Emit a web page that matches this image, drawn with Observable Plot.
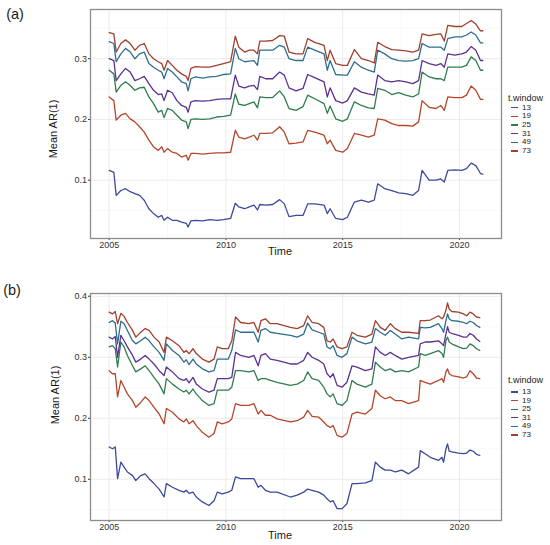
<!DOCTYPE html>
<html>
<head>
<meta charset="utf-8">
<script src="https://cdn.jsdelivr.net/npm/d3@7"></script>
<script src="https://cdn.jsdelivr.net/npm/@observablehq/plot@0.6"></script>
<style>
  html, body { margin: 0; padding: 0; background: #fff; }
  #wrap { position: relative; width: 550px; height: 545px; overflow: hidden; font-family: "Liberation Sans", Arial, sans-serif; color: #1a1a1a; }
  .abs { position: absolute; white-space: nowrap; line-height: 1; }
  svg { position: absolute; left: 0; }
</style>
</head>
<body>
<div id="wrap"></div>
<script>
// ---------- data ----------
const windows = ["13", "19", "25", "31", "49", "73"];
const colors  = ["#3b4a9a", "#b4472b", "#2f7d4f", "#5c3290", "#2e6f8c", "#a0402f"];
const xTicks = [2005, 2010, 2015, 2020];

// Panel (a)
const timeA = [2005.0,2005.2,2005.3,2005.5,2005.7,2005.9,2006.1,2006.3,2006.5,2006.7,2006.9,2007.1,2007.25,2007.35,2007.5,2007.7,2007.9,2008.1,2008.3,2008.38,2008.5,2008.7,2009.0,2009.3,2009.6,2009.9,2010.2,2010.4,2010.55,2010.8,2011.0,2011.2,2011.35,2011.45,2011.7,2012.0,2012.3,2012.5,2012.7,2013.0,2013.3,2013.5,2013.8,2014.2,2014.34,2014.46,2014.7,2015.0,2015.2,2015.5,2015.8,2016.1,2016.35,2016.5,2016.8,2017.1,2017.4,2017.7,2018.0,2018.25,2018.4,2018.7,2019.0,2019.2,2019.35,2019.5,2019.8,2020.1,2020.3,2020.5,2020.7,2020.9,2021.0];
const a13 = [0.116,0.113,0.075,0.083,0.086,0.081,0.078,0.075,0.067,0.053,0.045,0.039,0.042,0.034,0.039,0.034,0.034,0.031,0.029,0.023,0.033,0.034,0.033,0.035,0.034,0.035,0.037,0.062,0.056,0.053,0.056,0.059,0.051,0.060,0.059,0.060,0.068,0.061,0.040,0.042,0.042,0.061,0.061,0.059,0.045,0.053,0.037,0.035,0.039,0.064,0.067,0.064,0.067,0.094,0.086,0.083,0.079,0.078,0.075,0.083,0.116,0.100,0.100,0.102,0.097,0.116,0.117,0.116,0.119,0.128,0.124,0.111,0.110];
const a19 = [0.237,0.231,0.199,0.207,0.210,0.201,0.196,0.188,0.179,0.166,0.155,0.149,0.155,0.146,0.152,0.146,0.144,0.138,0.141,0.133,0.144,0.144,0.143,0.144,0.145,0.145,0.146,0.182,0.171,0.168,0.171,0.174,0.166,0.177,0.177,0.178,0.188,0.179,0.160,0.161,0.163,0.182,0.179,0.174,0.160,0.166,0.149,0.146,0.152,0.177,0.174,0.171,0.174,0.201,0.199,0.193,0.190,0.190,0.189,0.196,0.231,0.220,0.218,0.223,0.215,0.237,0.236,0.236,0.240,0.255,0.248,0.233,0.233];
const a25 = [0.281,0.275,0.245,0.256,0.262,0.256,0.248,0.252,0.253,0.237,0.226,0.212,0.215,0.203,0.218,0.215,0.207,0.199,0.196,0.185,0.200,0.201,0.200,0.201,0.204,0.205,0.207,0.242,0.225,0.223,0.226,0.229,0.219,0.237,0.236,0.236,0.247,0.237,0.218,0.215,0.221,0.240,0.234,0.226,0.210,0.222,0.201,0.197,0.201,0.229,0.223,0.219,0.218,0.251,0.248,0.241,0.244,0.240,0.237,0.242,0.278,0.270,0.267,0.267,0.264,0.286,0.286,0.286,0.289,0.303,0.297,0.281,0.281];
const a31 = [0.300,0.297,0.264,0.275,0.284,0.278,0.264,0.267,0.271,0.259,0.248,0.241,0.242,0.231,0.248,0.244,0.231,0.223,0.220,0.212,0.229,0.231,0.230,0.231,0.233,0.234,0.234,0.273,0.255,0.252,0.255,0.256,0.249,0.271,0.267,0.267,0.278,0.273,0.252,0.247,0.251,0.274,0.269,0.262,0.237,0.252,0.231,0.227,0.231,0.252,0.245,0.242,0.240,0.273,0.264,0.262,0.264,0.262,0.259,0.264,0.297,0.292,0.289,0.292,0.286,0.308,0.306,0.308,0.311,0.320,0.314,0.297,0.297];
const a49 = [0.328,0.325,0.295,0.308,0.317,0.311,0.300,0.308,0.311,0.292,0.286,0.281,0.278,0.267,0.284,0.278,0.270,0.262,0.259,0.247,0.267,0.270,0.268,0.270,0.271,0.274,0.275,0.317,0.300,0.295,0.296,0.297,0.289,0.314,0.314,0.314,0.322,0.319,0.300,0.297,0.297,0.319,0.314,0.308,0.281,0.297,0.274,0.273,0.273,0.295,0.286,0.281,0.278,0.314,0.308,0.300,0.297,0.296,0.297,0.300,0.325,0.319,0.319,0.319,0.314,0.333,0.336,0.336,0.339,0.344,0.339,0.326,0.326];
const a73 = [0.343,0.341,0.311,0.325,0.331,0.325,0.314,0.322,0.325,0.308,0.300,0.295,0.292,0.281,0.297,0.289,0.281,0.275,0.271,0.264,0.284,0.287,0.286,0.286,0.289,0.292,0.295,0.337,0.319,0.311,0.314,0.314,0.308,0.329,0.329,0.330,0.338,0.337,0.311,0.308,0.308,0.333,0.327,0.322,0.297,0.314,0.292,0.289,0.289,0.315,0.300,0.297,0.293,0.327,0.320,0.315,0.314,0.313,0.311,0.314,0.341,0.338,0.340,0.341,0.329,0.355,0.353,0.353,0.358,0.363,0.357,0.346,0.346];

// Panel (b)
const timeB = [2005.0,2005.14,2005.26,2005.36,2005.5,2005.64,2005.78,2006.0,2006.14,2006.35,2006.54,2006.71,2006.92,2007.14,2007.35,2007.45,2007.71,2007.99,2008.2,2008.3,2008.42,2008.59,2008.73,2008.99,2009.27,2009.49,2009.63,2009.84,2010.1,2010.25,2010.41,2010.63,2010.98,2011.2,2011.38,2011.5,2011.69,2011.9,2012.19,2012.76,2013.05,2013.33,2013.5,2013.69,2013.97,2014.19,2014.33,2014.47,2014.59,2014.76,2014.97,2015.18,2015.4,2015.61,2015.97,2016.25,2016.4,2016.61,2016.82,2017.04,2017.25,2017.53,2017.82,2018.25,2018.32,2018.53,2018.75,2019.1,2019.25,2019.32,2019.42,2019.49,2019.56,2019.67,2019.96,2020.17,2020.31,2020.45,2020.59,2020.73,2020.87];
const b13 = [0.153,0.150,0.153,0.101,0.128,0.120,0.112,0.106,0.098,0.106,0.109,0.101,0.093,0.084,0.071,0.093,0.087,0.082,0.079,0.082,0.077,0.079,0.071,0.063,0.057,0.065,0.079,0.076,0.079,0.082,0.104,0.101,0.101,0.101,0.087,0.090,0.082,0.079,0.079,0.071,0.074,0.079,0.084,0.082,0.079,0.074,0.068,0.063,0.065,0.052,0.052,0.060,0.093,0.093,0.094,0.098,0.128,0.120,0.115,0.115,0.112,0.115,0.109,0.120,0.147,0.142,0.136,0.131,0.136,0.128,0.150,0.158,0.146,0.145,0.143,0.142,0.143,0.148,0.146,0.141,0.139];
const b19 = [0.278,0.273,0.273,0.235,0.262,0.251,0.240,0.229,0.218,0.226,0.235,0.229,0.218,0.207,0.191,0.216,0.210,0.199,0.194,0.199,0.191,0.196,0.188,0.177,0.169,0.175,0.194,0.191,0.194,0.199,0.224,0.221,0.221,0.224,0.207,0.213,0.205,0.205,0.199,0.194,0.196,0.202,0.213,0.203,0.202,0.194,0.188,0.185,0.188,0.172,0.169,0.175,0.207,0.210,0.207,0.216,0.246,0.237,0.232,0.235,0.229,0.229,0.224,0.229,0.262,0.259,0.256,0.262,0.265,0.259,0.276,0.281,0.273,0.270,0.268,0.266,0.268,0.278,0.273,0.266,0.265];
const b25 = [0.317,0.319,0.314,0.284,0.325,0.317,0.303,0.286,0.276,0.281,0.286,0.278,0.267,0.256,0.240,0.265,0.256,0.248,0.243,0.246,0.240,0.248,0.240,0.229,0.221,0.224,0.246,0.246,0.246,0.251,0.278,0.278,0.276,0.278,0.262,0.265,0.265,0.262,0.259,0.254,0.256,0.262,0.276,0.265,0.262,0.251,0.240,0.235,0.240,0.224,0.221,0.229,0.262,0.256,0.251,0.256,0.292,0.284,0.278,0.281,0.276,0.278,0.276,0.284,0.306,0.303,0.306,0.311,0.306,0.300,0.327,0.333,0.325,0.322,0.317,0.314,0.315,0.322,0.319,0.314,0.311];
const b31 = [0.333,0.330,0.334,0.300,0.336,0.327,0.317,0.303,0.292,0.297,0.303,0.297,0.289,0.278,0.270,0.284,0.276,0.265,0.262,0.265,0.258,0.267,0.256,0.248,0.243,0.246,0.265,0.265,0.265,0.267,0.308,0.303,0.300,0.303,0.286,0.303,0.306,0.297,0.295,0.289,0.289,0.295,0.308,0.300,0.295,0.289,0.273,0.267,0.273,0.254,0.251,0.259,0.286,0.284,0.278,0.281,0.317,0.308,0.303,0.308,0.303,0.297,0.300,0.303,0.322,0.325,0.325,0.327,0.322,0.319,0.338,0.350,0.341,0.339,0.336,0.333,0.333,0.339,0.336,0.330,0.326];
const b49 = [0.357,0.360,0.356,0.322,0.359,0.355,0.344,0.327,0.322,0.327,0.333,0.327,0.317,0.308,0.295,0.322,0.311,0.303,0.292,0.296,0.288,0.297,0.289,0.281,0.276,0.278,0.297,0.297,0.297,0.311,0.345,0.341,0.341,0.341,0.325,0.344,0.347,0.341,0.339,0.336,0.333,0.338,0.356,0.345,0.341,0.338,0.317,0.314,0.319,0.303,0.300,0.306,0.333,0.327,0.322,0.325,0.347,0.341,0.336,0.344,0.338,0.330,0.333,0.330,0.349,0.348,0.349,0.355,0.347,0.341,0.360,0.371,0.363,0.360,0.359,0.357,0.355,0.359,0.357,0.352,0.349];
const b73 = [0.374,0.371,0.375,0.355,0.372,0.367,0.357,0.344,0.333,0.341,0.347,0.344,0.333,0.325,0.308,0.333,0.327,0.319,0.308,0.311,0.306,0.314,0.306,0.297,0.292,0.297,0.317,0.314,0.314,0.327,0.366,0.357,0.355,0.357,0.341,0.360,0.363,0.355,0.355,0.349,0.347,0.352,0.368,0.357,0.355,0.349,0.327,0.325,0.330,0.317,0.314,0.317,0.341,0.336,0.333,0.338,0.360,0.349,0.344,0.355,0.347,0.341,0.341,0.339,0.360,0.360,0.361,0.368,0.363,0.366,0.377,0.389,0.379,0.375,0.374,0.371,0.368,0.374,0.371,0.366,0.365];

// ---------- build ----------
function toLong(times, seriesList) {
  const rows = [];
  seriesList.forEach((vals, i) => {
    vals.forEach((v, j) => rows.push({ t: times[j], v, w: windows[i] }));
  });
  return rows;
}
const dataA = toLong(timeA, [a13, a19, a25, a31, a49, a73]);
const dataB = toLong(timeB, [b13, b19, b25, b31, b49, b73]);

const wrap = document.getElementById("wrap");
const FONT = "Liberation Sans, Arial, sans-serif";

function makePanel(data, opts) {
  const chart = Plot.plot({
    width: 550,
    height: opts.height,
    marginLeft: 90,
    marginRight: 49,
    marginTop: opts.marginTop,
    marginBottom: opts.marginBottom,
    style: { fontFamily: FONT, fontSize: "9px", color: "#333", background: "transparent", overflow: "visible" },
    x: { domain: [2004.2, 2021.8], ticks: xTicks, tickFormat: d => String(d), label: null, tickSize: 2, tickPadding: 1.5 },
    y: { domain: opts.yDomain, ticks: opts.yTicks, tickFormat: d => d.toFixed(1), label: null, tickSize: 2, tickPadding: 1.5 },
    color: { domain: windows, range: colors },
    marks: [
      Plot.gridX([2007.5, 2012.5, 2017.5], { stroke: "#f3f3f3", strokeOpacity: 1, strokeWidth: 0.6 }),
      Plot.gridY(opts.yMinor, { stroke: "#f3f3f3", strokeOpacity: 1, strokeWidth: 0.6 }),
      Plot.gridX(xTicks, { stroke: "#e9e9e9", strokeOpacity: 1, strokeWidth: 0.9 }),
      Plot.gridY(opts.yTicks, { stroke: "#e9e9e9", strokeOpacity: 1, strokeWidth: 0.9 }),
      Plot.line(data, { x: "t", y: "v", z: "w", stroke: "w", strokeWidth: 1.3, curve: "linear" }),
      Plot.frame({ stroke: "#8c8c8c", strokeWidth: 1.3 })
    ]
  });
  chart.style.top = opts.top + "px";
  wrap.appendChild(chart);
}

makePanel(dataA, { top: 0, height: 262, marginTop: 9, marginBottom: 24,
  yDomain: [0.004, 0.381], yTicks: [0.1, 0.2, 0.3], yMinor: [0.05, 0.15, 0.25, 0.35] });
makePanel(dataB, { top: 270, height: 275, marginTop: 23, marginBottom: 25,
  yDomain: [0.0325, 0.4045], yTicks: [0.1, 0.2, 0.3, 0.4], yMinor: [0.05, 0.15, 0.25, 0.35] });

// ---------- text ----------
function addText(txt, x, y, size, extra) {
  const d = document.createElement("div");
  d.className = "abs";
  d.textContent = txt;
  d.style.left = x + "px";
  d.style.top = y + "px";
  d.style.fontSize = size + "px";
  d.style.transform = (extra && extra.transform) || "translate(-50%,-50%)";
  if (extra && extra.color) d.style.color = extra.color;
  wrap.appendChild(d);
  return d;
}

// panel tags
addText("(a)", 15, 14, 14.5);
addText("(b)", 12, 289.5, 14.5);

// axis titles
addText("Mean AR(1)", 53, 129, 11, { transform: "translate(-50%,-50%) rotate(-90deg)" });
addText("Time", 280, 250.5, 11);
addText("Mean AR(1)", 55, 395, 11, { transform: "translate(-50%,-50%) rotate(-90deg)" });
addText("Time", 280, 535, 11);

// legends
function legend(titleY, firstY, step) {
  addText("t.window", 508, titleY, 9, { transform: "translate(0,-50%)" });
  windows.forEach((w, i) => {
    const y = firstY + i * step;
    const ln = document.createElement("div");
    ln.className = "abs";
    ln.style.left = "511px";
    ln.style.top = (y - 0.65) + "px";
    ln.style.width = "7px";
    ln.style.height = "1.3px";
    ln.style.background = colors[i];
    wrap.appendChild(ln);
    addText(w, 522, y, 8, { transform: "translate(0,-50%)" });
  });
}
legend(97.5, 107.5, 8.7);
legend(380, 392, 8.6);
</script>
</body>
</html>
